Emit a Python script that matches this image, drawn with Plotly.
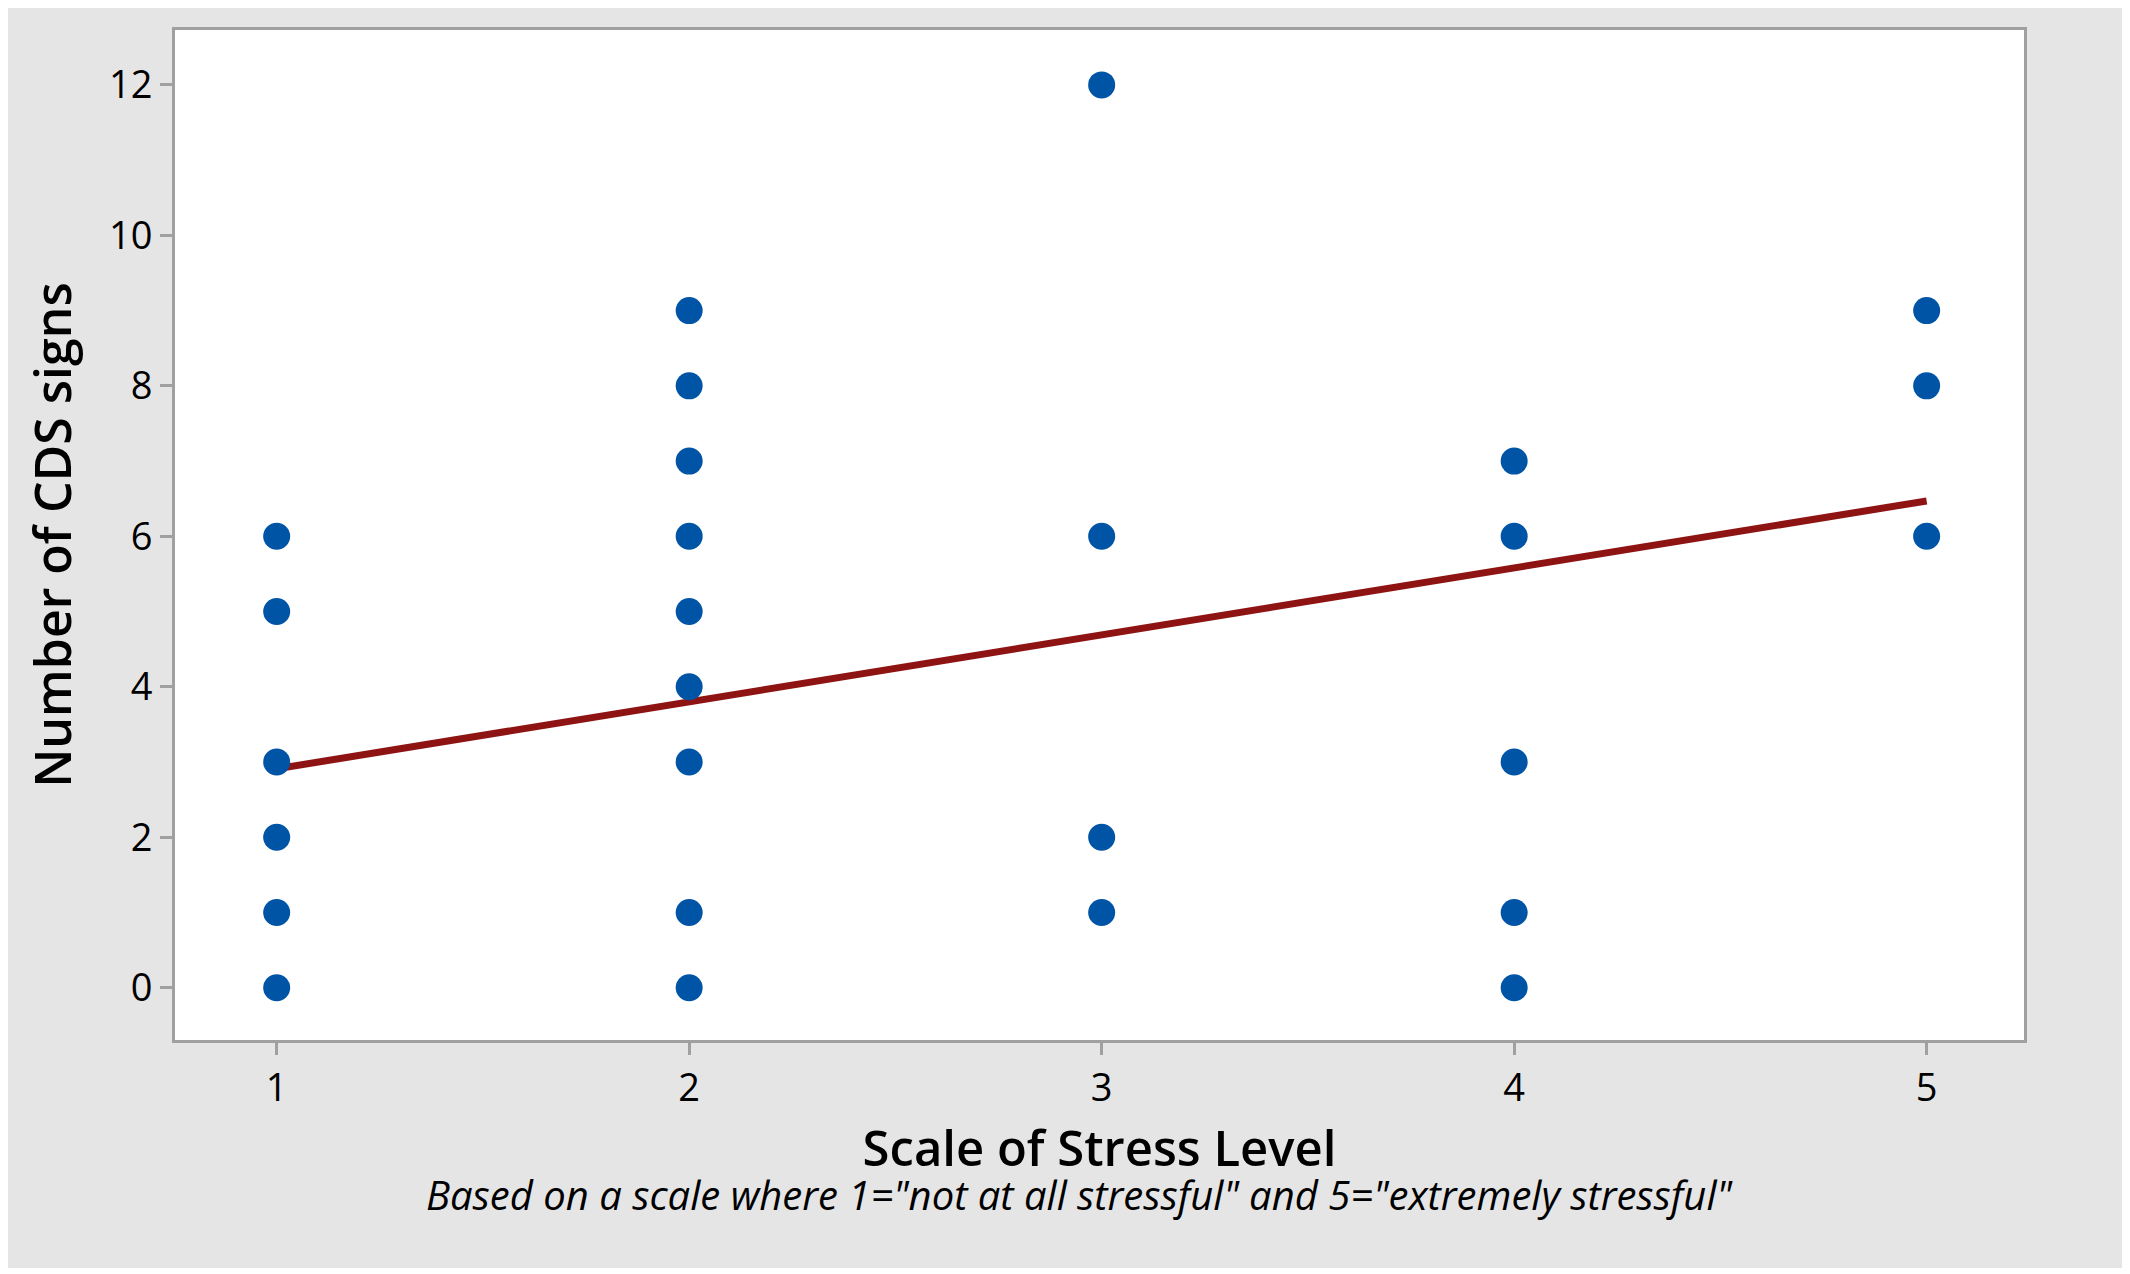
import plotly.graph_objects as go

# Data
stress_level = [1, 1, 1, 1, 1, 1,
                2, 2, 2, 2, 2, 2, 2, 2, 2,
                3, 3, 3, 3,
                4, 4, 4, 4, 4,
                5, 5, 5]
cds_signs = [6, 5, 3, 2, 1, 0,
             9, 8, 7, 6, 5, 4, 3, 1, 0,
             12, 6, 2, 1,
             7, 6, 3, 1, 0,
             9, 8, 6]

fit_x = [1, 5]
fit_y = [2.91, 6.47]

x_ticks = [1, 2, 3, 4, 5]
y_ticks = [0, 2, 4, 6, 8, 10, 12]

x_title = "Scale of Stress Level"
y_title = "Number of CDS signs"
footnote = 'Based on a scale where 1="not at all stressful" and 5="extremely stressful"'

FONT = "Open Sans"
AXIS_GREY = "#A0A0A0"
BG_GREY = "#E5E5E5"

fig = go.Figure()
fig.add_trace(go.Scatter(
    x=fit_x, y=fit_y, mode="lines",
    line=dict(color="#8E1313", width=7),
    showlegend=False, hoverinfo="skip"))
fig.add_trace(go.Scatter(
    x=stress_level, y=cds_signs, mode="markers",
    marker=dict(color="#0054A6", size=27, line=dict(width=0)),
    showlegend=False))

# page body has an 8px margin, so the figure is sized to fill the rest
W, H = 2122, 1266
L, R, T, B = 167, 2016, 22, 1032

def px_to_paper_x(px):
    return (px - L) / (R - L)

def px_to_paper_y(py):
    return (B - py) / (B - T)

fig.update_layout(
    width=W, height=H,
    margin=dict(l=L, r=W - R, t=T, b=H - B, autoexpand=False),
    paper_bgcolor="white",
    plot_bgcolor="white",
    font=dict(family=FONT, color="black"),
    shapes=[
        dict(type="rect", xref="paper", yref="paper", layer="below",
             x0=px_to_paper_x(0), x1=px_to_paper_x(2117),
             y0=px_to_paper_y(1260), y1=px_to_paper_y(0),
             fillcolor=BG_GREY, line=dict(width=0)),
        dict(type="rect", xref="paper", yref="paper", layer="below",
             x0=0, x1=1, y0=0, y1=1,
             fillcolor="white", line=dict(width=0)),
    ],
    annotations=[dict(text=footnote, xref="paper", yref="paper",
                      x=px_to_paper_x(1071), y=px_to_paper_y(1186),
                      xanchor="center", yanchor="middle", showarrow=False,
                      font=dict(family=FONT, size=40, style="italic", color="black"))],
)

fig.update_xaxes(
    range=[0.7535, 5.236], tickvals=x_ticks, ticktext=[str(v) for v in x_ticks],
    showgrid=False, zeroline=False,
    showline=True, linecolor=AXIS_GREY, linewidth=3, mirror=True,
    ticks="outside", ticklen=12, tickwidth=3, tickcolor=AXIS_GREY,
    tickfont=dict(family=FONT, size=38, weight=500, color="black"),
    title=dict(text=x_title, font=dict(family=FONT, size=49, weight=600, color="black"),
               standoff=22),
)
fig.update_yaxes(
    range=[-0.695, 12.73], tickvals=y_ticks, ticktext=[str(v) for v in y_ticks],
    showgrid=False, zeroline=False,
    showline=True, linecolor=AXIS_GREY, linewidth=3, mirror=True,
    ticks="outside", ticklen=12, tickwidth=3, tickcolor=AXIS_GREY,
    tickfont=dict(family=FONT, size=38, weight=500, color="black"),
    title=dict(text=y_title, font=dict(family=FONT, size=50, weight=600, color="black"),
               standoff=22),
)

fig.write_html("out.html")
